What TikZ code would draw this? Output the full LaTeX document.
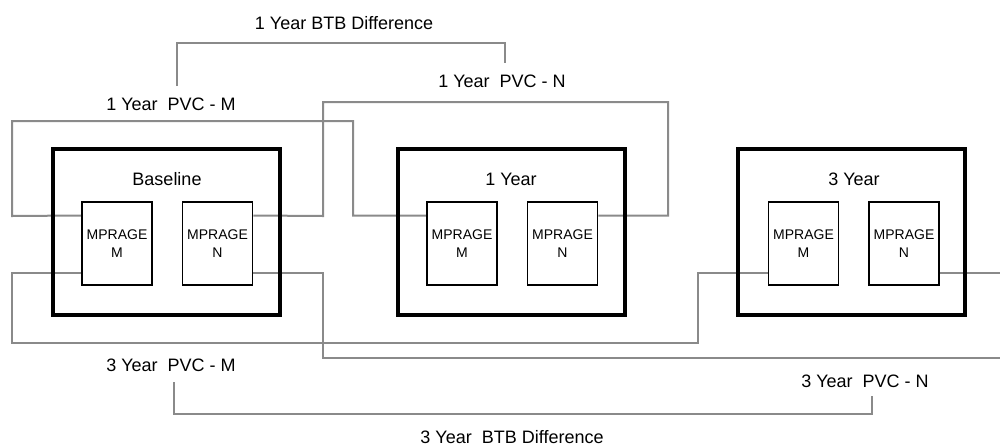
\documentclass[tikz,border=0pt]{standalone}
\usepackage{fontspec}
\setmainfont{Liberation Sans}
\usetikzlibrary{positioning,calc}
\definecolor{linkgray}{RGB}{138,138,138}
\pgfdeclarelayer{background}
\pgfsetlayers{background,main}

\begin{document}
\begin{tikzpicture}[x=0.5pt,y=-0.5pt,font=\fontsize{9}{11}\selectfont,
  visit/.style={draw,line width=2pt,minimum width=113.5pt,minimum height=83pt,inner sep=0pt},
  scan/.style={draw,line width=0.8pt,minimum width=35pt,minimum height=41.5pt,inner sep=0pt,
    align=center,font=\fontsize{7}{9}\selectfont},
  link/.style={draw=linkgray,line width=1pt},
  lbl/.style={inner sep=1pt}]
  \clip (0,0) rectangle (1000,445);
  % visits
  \node[visit] (base) at (166.5,232) {};
  \node[visit] (yr1) at (511,232) {};
  \node[visit] (yr3) at (851.5,232) {};
  \node (baseT) at (167,179) {Baseline};
  \node (yr1T) at (511,179) {1 Year};
  \node (yr3T) at (854,179) {3 Year};
  % scans
  \node[scan] (bM) at (117,243.5) {MPRAGE\\M};
  \node[scan] (bN) at (217.5,243.5) {MPRAGE\\N};
  \node[scan] (oM) at (462,243.5) {MPRAGE\\M};
  \node[scan] (oN) at (562.5,243.5) {MPRAGE\\N};
  \node[scan] (tM) at (803.5,243.5) {MPRAGE\\M};
  \node[scan] (tN) at (904,243.5) {MPRAGE\\N};
  % labels
  \node[lbl] (btb1) at (344,23) {1 Year BTB Difference};
  \node[lbl] (pvcM1) at (171,104) {1 Year\ \ PVC - M};
  \node[lbl] (pvcN1) at (502,81) {1 Year\ \ PVC - N};
  \node[lbl] (pvcM3) at (171,365) {3 Year\ \ PVC - M};
  \node[lbl] (pvcN3) at (865,381) {3 Year\ \ PVC - N};
  \node[lbl] (btb3) at (512,437) {3 Year\ \ BTB Difference};
  \coordinate (m1top) at (177,86);
  \coordinate (n1top) at (505,63);
  \coordinate (m3bot) at (174,382);
  \coordinate (n3bot) at (872,396);
  \coordinate (edge) at (1012,358);
  \begin{pgfonlayer}{background}
    \draw[link] ([yshift=14pt]bM.west) -- (12,216) -- (12,121) -- (353,121) |- ([yshift=14pt]oM.west);
    \draw[link] ([yshift=14pt]bN.east) -- (323,216) -- (323,102) -- (668,102) |- ([yshift=14pt]oN.east);
    \draw[link] ([yshift=-14.75pt]bM.west) -- (12,273) -- (12,343) -- (698,343) |- ([yshift=-14.75pt]tM.west);
    \draw[link] ([yshift=-14.75pt]bN.east) -- (323,273) -- (323,358) -- (edge) |- ([yshift=-14.75pt]tN.east);
    \draw[link] (m1top) -- (177,43) -| (n1top);
    \draw[link] (m3bot) -- (174,414) -| (n3bot);
  \end{pgfonlayer}
\end{tikzpicture}
\end{document}
